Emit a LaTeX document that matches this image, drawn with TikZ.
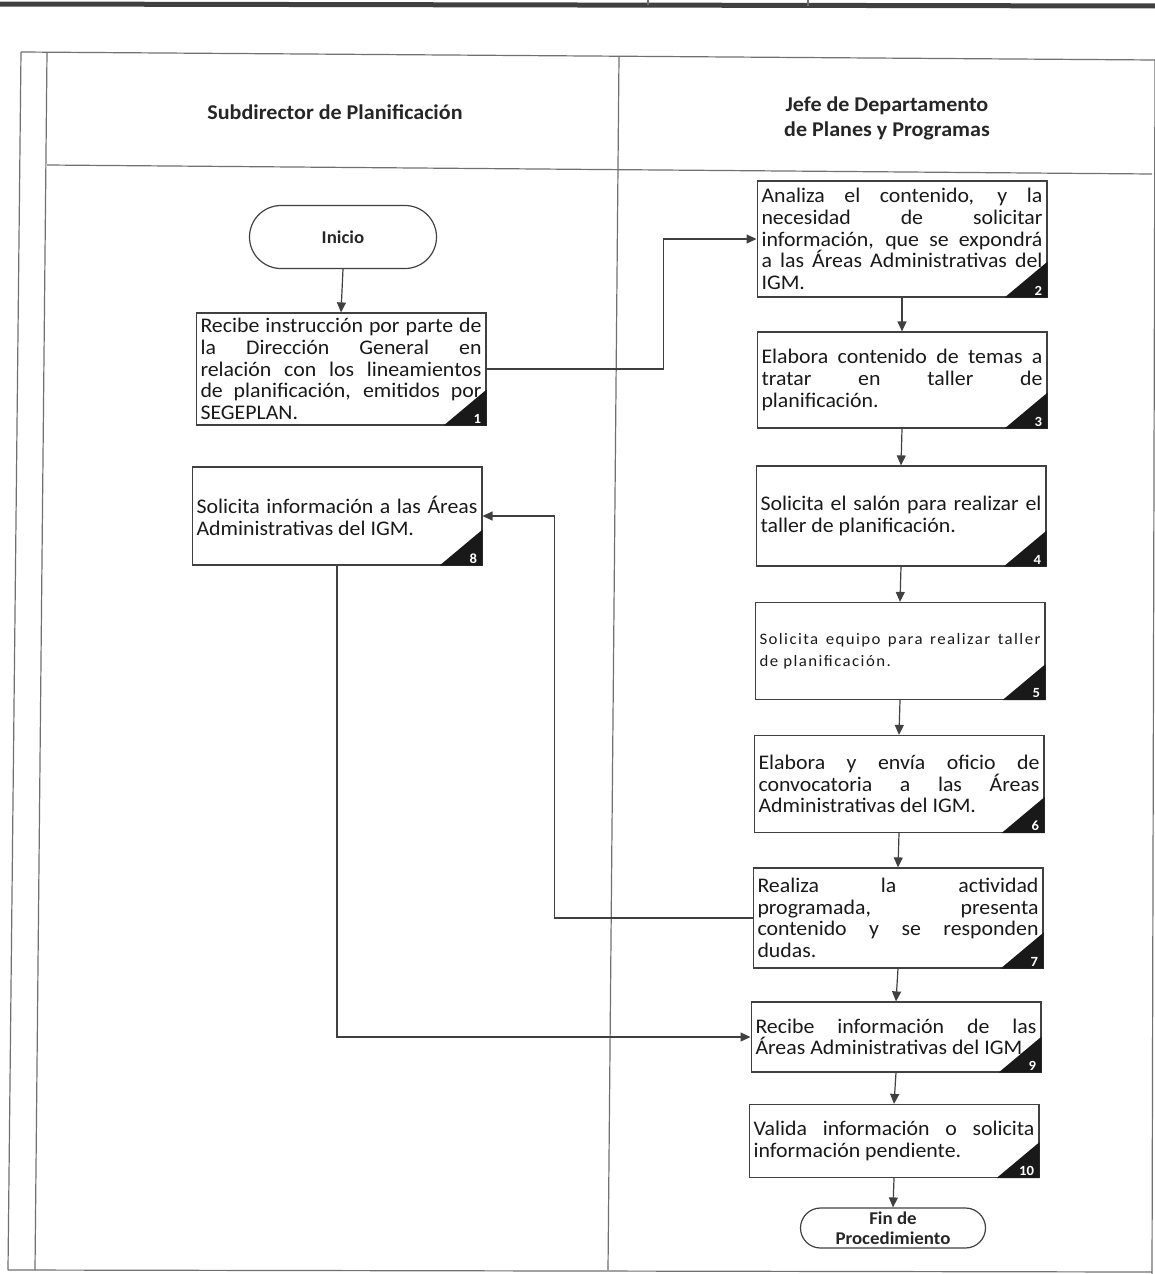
\documentclass[tikz,border=0pt]{standalone}
\usepackage{fontspec}
\setmainfont{Carlito}[FakeStretch=1.05]
\usetikzlibrary{shapes,arrows.meta}

\definecolor{borde}{HTML}{404040}
\definecolor{tabla}{HTML}{707070}

\begin{document}
\begin{tikzpicture}[x=0.5pt, y=-0.5pt]
\tikzset{
  paso/.style = {draw=borde, line width=0.6pt, text width=140.5pt, inner xsep=2.2pt, inner ysep=0pt, align=justify, text=black!90, font={\fontsize{10.4}{10.8}\selectfont\lineskiplimit=-8pt}},
  terminal/.style = {draw=borde, line width=0.6pt, shape=rounded rectangle, align=center, inner sep=0pt, text=black!85, font={\bfseries\fontsize{9}{10}\selectfont}},
  flecha/.style = {draw=borde, line width=0.6pt, -{Triangle[length=5pt, width=4.5pt]}},
  num/.style = {anchor=south east, text=white, inner xsep=2.5pt, inner ysep=1pt, font={\bfseries\fontsize{7}{8}\selectfont}},
  cabecera/.style = {align=center, text=black!85, font={\bfseries\fontsize{10.5}{12.5}\selectfont}}
}
\useasboundingbox (0,0) rectangle (1155,1274);

% tabla
\draw[black!75, line width=2.5pt] (0,4) -- (1155,6);
\draw[tabla, line width=0.6pt] (648,0) -- (648,5);
\draw[tabla, line width=0.6pt] (808,0) -- (808,6);
\draw[tabla, line width=0.6pt] (21,52) -- (1155,60);
\draw[tabla, line width=0.6pt] (47,165) -- (1152,174);
\draw[tabla, line width=0.6pt] (21,52) -- (8,1270);
\draw[tabla, line width=0.6pt] (47,52) -- (35,1270);
\draw[tabla, line width=0.6pt] (619,56) -- (608,1270);
\draw[tabla, line width=0.6pt] (1155,60) -- (1152,1274);
\draw[tabla, line width=0.6pt] (8,1270) -- (1152,1272);

\node[cabecera] (sub) at (335,112) {Subdirector de Planificación};
\node[cabecera] (jefe) at (887,118) {Jefe de Departamento\\de Planes y Programas};

% actividades
\node[terminal, minimum width=93.5pt, minimum height=31.5pt] (ini) at (343,237) {Inicio};
\node[paso, minimum height=56pt] (p1) at (341,369) {Recibe instrucción por parte de\linebreak la Dirección General en\linebreak relación con los lineamientos\linebreak de planificación, emitidos por\linebreak SEGEPLAN.};
\node[paso, minimum height=49pt] (p8) at (337,516) {Solicita información a las Áreas\linebreak Administrativas del IGM.};

\node[paso, minimum height=58pt] (p2) at (902,239) {Analiza el contenido, y la\linebreak necesidad de solicitar\linebreak información, que se expondrá\linebreak a las Áreas Administrativas del\linebreak IGM.};
\node[paso, minimum height=48pt] (p3) at (902,380) {Elabora contenido de temas a\linebreak tratar en taller de\linebreak planificación.};
\node[paso, minimum height=50pt] (p4) at (901,516) {Solicita el salón para realizar el\linebreak taller de planificación.};
\node[paso, minimum height=48.5pt, font={\addfontfeature{LetterSpace=9}\fontsize{8}{10.8}\selectfont}] (p5) at (900,651) {Solicita equipo para realizar taller\linebreak de planificación.};
\node[paso, minimum height=48.5pt] (p6) at (899,784) {Elabora y envía oficio de\linebreak convocatoria a las Áreas\linebreak Administrativas del IGM.};
\node[paso, minimum height=50pt] (p7) at (898,918) {Realiza la actividad\linebreak programada, presenta\linebreak contenido y se responden\linebreak dudas.};
\node[paso, minimum height=35pt] (p9) at (896,1037) {Recibe información de las\linebreak Áreas Administrativas del IGM.};
\node[paso, minimum height=36.5pt] (p10) at (894,1141) {Valida información o solicita\linebreak información pendiente.};
\node[terminal, minimum width=92.5pt, minimum height=20pt] (fin) at (893,1228) {Fin de\\Procedimiento};

% numeros
\foreach \n in {1,...,10}{
  \fill[black!90] (p\n.south east) -- ++(-43,0) -- ++(43,-36) -- cycle;
  \node[num] (n\n) at (p\n.south east) {\n};
}

% flechas
\draw[flecha] (ini.south) -- (p1.north);
\draw[flecha] (p1.east) -- ++(177,0) |- (p2.west);
\draw[flecha] (p2.south) -- (p3.north);
\draw[flecha] (p3.south) -- (p4.north);
\draw[flecha] (p4.south) -- (p5.north);
\draw[flecha] (p5.south) -- (p6.north);
\draw[flecha] (p6.south) -- (p7.north);
\draw[flecha] (p7.west) -- ++(-198,0) |- (p8.east);
\draw[flecha] (p7.south) -- (p9.north);
\draw[flecha] (p8.south) |- (p9.west);
\draw[flecha] (p9.south) -- (p10.north);
\draw[flecha] (p10.south) -- (fin.north);
\end{tikzpicture}
\end{document}
